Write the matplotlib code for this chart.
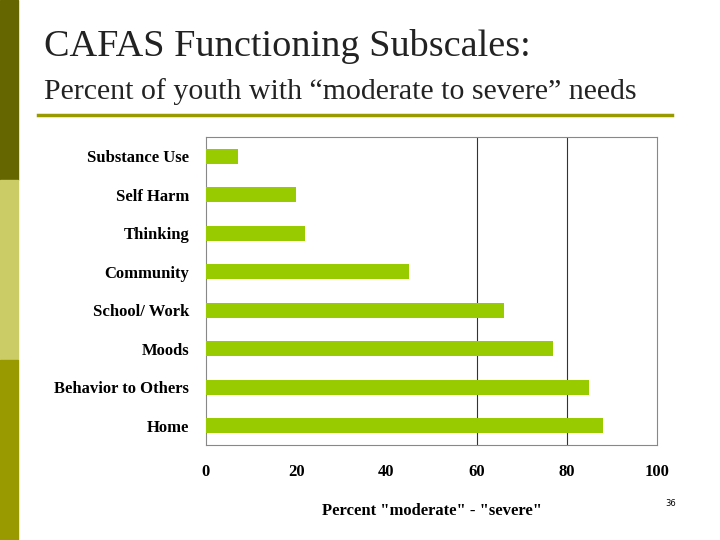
import matplotlib.pyplot as plt
from matplotlib.patches import Rectangle
from matplotlib.lines import Line2D

categories = ["Substance Use", "Self Harm", "Thinking", "Community",
              "School/ Work", "Moods", "Behavior to Others", "Home"]
percent = [7, 20, 22, 45, 66, 77, 85, 88]
xticks = [0, 20, 40, 60, 80, 100]

W, H = 720, 540
fig = plt.figure(figsize=(7.2, 5.4), dpi=100)

# left colour strip
for y0, y1, c in [(0, 180, "#666600"), (180, 360, "#cccc66"), (360, 540, "#999900")]:
    fig.patches.append(Rectangle((0, 1 - y1 / H), 18 / W, (y1 - y0) / H,
                                 transform=fig.transFigure, color=c))

fig.text(44 / W, 1 - 47 / H, "CAFAS Functioning Subscales:", family="Liberation Serif",
         fontsize=27.5, va="center", color="#222222")
fig.text(44 / W, 1 - 92 / H, "Percent of youth with \u201cmoderate to severe\u201d needs",
         family="Liberation Serif", fontsize=21.5, va="center", color="#222222")
fig.lines.append(Line2D([38 / W, 672 / W], [1 - 115 / H] * 2, transform=fig.transFigure,
                        color="#999900", lw=2.5))
fig.text(676 / W, 1 - 503 / H, "36", fontsize=6, ha="right", va="center")

ax = fig.add_axes([206 / W, 1 - 445 / H, 451 / W, 308 / H])
y = range(len(categories))
ax.barh(y, percent, height=0.4, color="#99cc00", zorder=3)
ax.set_ylim(len(categories) - 0.5, -0.5)
ax.set_xlim(0, 100)
ax.set_xticks(xticks)
ax.set_yticks(list(y))
ax.set_yticklabels(categories)
for x in [60, 80]:
    ax.axvline(x, color="#333333", lw=0.8, zorder=1)
for s in ax.spines.values():
    s.set_color("#888888")
ax.tick_params(axis="y", length=0, pad=12)
ax.tick_params(axis="x", length=0, pad=14)
for lab in ax.get_xticklabels() + ax.get_yticklabels():
    lab.set_family("Liberation Serif")
    lab.set_fontweight("bold")
    lab.set_fontsize(12)
ax.set_xlabel('Percent "moderate" - "severe"', family="Liberation Serif",
              fontweight="bold", fontsize=12, labelpad=16)

fig.savefig("out.png", dpi=100)
